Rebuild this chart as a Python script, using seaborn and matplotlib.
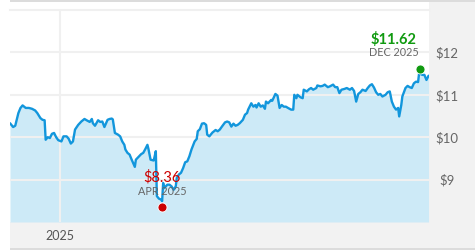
import matplotlib
matplotlib.use("Agg")
import matplotlib.pyplot as plt
from matplotlib.patches import Rectangle
import seaborn as sns
import pandas as pd

dates = [
    "2024-11-14", "2024-11-17", "2024-11-19", "2024-11-22", "2024-11-24", "2024-11-26", "2024-11-29",
    "2024-12-02", "2024-12-05", "2024-12-08", "2024-12-10", "2024-12-13", "2024-12-15", "2024-12-17",
    "2024-12-18", "2024-12-20", "2024-12-22", "2024-12-24", "2024-12-26", "2024-12-28", "2024-12-30",
    "2025-01-02", "2025-01-04", "2025-01-07", "2025-01-09", "2025-01-11", "2025-01-13", "2025-01-15",
    "2025-01-18", "2025-01-21", "2025-01-24", "2025-01-26", "2025-01-29", "2025-01-31", "2025-02-01",
    "2025-02-03", "2025-02-06", "2025-02-08", "2025-02-10", "2025-02-12", "2025-02-15", "2025-02-17",
    "2025-02-19", "2025-02-20", "2025-02-22", "2025-02-25", "2025-02-27", "2025-03-01", "2025-03-03",
    "2025-03-04", "2025-03-06", "2025-03-08", "2025-03-10", "2025-03-13", "2025-03-14", "2025-03-17",
    "2025-03-19", "2025-03-21", "2025-03-23", "2025-03-25", "2025-03-26", "2025-03-28", "2025-03-31",
    "2025-04-02", "2025-04-03", "2025-04-05", "2025-04-07", "2025-04-08", "2025-04-09", "2025-04-10",
    "2025-04-13", "2025-04-15", "2025-04-17", "2025-04-19", "2025-04-21", "2025-04-22", "2025-04-24",
    "2025-04-26", "2025-04-28", "2025-04-30", "2025-05-02", "2025-05-04", "2025-05-06", "2025-05-09",
    "2025-05-11", "2025-05-12", "2025-05-14", "2025-05-16", "2025-05-18", "2025-05-20", "2025-05-21",
    "2025-05-23", "2025-05-26", "2025-05-29", "2025-05-31", "2025-06-02", "2025-06-04", "2025-06-07",
    "2025-06-09", "2025-06-11", "2025-06-13", "2025-06-15", "2025-06-17", "2025-06-19", "2025-06-21",
    "2025-06-24", "2025-06-26", "2025-06-28", "2025-06-29", "2025-07-02", "2025-07-04", "2025-07-06",
    "2025-07-07", "2025-07-09", "2025-07-11", "2025-07-13", "2025-07-15", "2025-07-16", "2025-07-18",
    "2025-07-21", "2025-07-22", "2025-07-25", "2025-07-27", "2025-07-29", "2025-07-31", "2025-08-02",
    "2025-08-04", "2025-08-06", "2025-08-09", "2025-08-11", "2025-08-12", "2025-08-14", "2025-08-15",
    "2025-08-18", "2025-08-20", "2025-08-21", "2025-08-24", "2025-08-26", "2025-08-28", "2025-08-30",
    "2025-09-02", "2025-09-03", "2025-09-06", "2025-09-08", "2025-09-10", "2025-09-13", "2025-09-15",
    "2025-09-18", "2025-09-20", "2025-09-22", "2025-09-24", "2025-09-26", "2025-09-29", "2025-10-01",
    "2025-10-04", "2025-10-06", "2025-10-08", "2025-10-10", "2025-10-12", "2025-10-14", "2025-10-16",
    "2025-10-19", "2025-10-21", "2025-10-23", "2025-10-25", "2025-10-27", "2025-10-29", "2025-10-31",
    "2025-11-02", "2025-11-04", "2025-11-07", "2025-11-09", "2025-11-11", "2025-11-13", "2025-11-15",
    "2025-11-17", "2025-11-19", "2025-11-20", "2025-11-22", "2025-11-23", "2025-11-26", "2025-11-28",
    "2025-11-30", "2025-12-02", "2025-12-04", "2025-12-06", "2025-12-08", "2025-12-09", "2025-12-12",
    "2025-12-14", "2025-12-16", "2025-12-18",
]
prices = [
    10.33, 10.24, 10.27, 10.57, 10.69, 10.75, 10.69,
    10.69, 10.67, 10.63, 10.57, 10.45, 10.41, 10.40,
    9.94, 10.00, 9.98, 10.08, 10.10, 10.00, 9.93,
    9.90, 10.02, 10.02, 9.96, 9.85, 9.90, 10.18,
    10.29, 10.37, 10.43, 10.40, 10.36, 10.43, 10.33,
    10.27, 10.40, 10.36, 10.37, 10.24, 10.41, 10.43,
    10.44, 10.42, 10.10, 10.06, 10.02, 9.90, 9.82,
    9.71, 9.63, 9.59, 9.47, 9.30, 9.47, 9.55,
    9.60, 9.63, 9.72, 9.82, 9.72, 9.47, 9.45,
    9.67, 8.61, 8.55, 8.53, 8.49, 8.92, 8.80,
    8.88, 8.88, 8.84, 8.76, 8.84, 9.04, 9.12,
    9.16, 9.27, 9.41, 9.43, 9.55, 9.71, 9.90,
    9.96, 10.14, 10.19, 10.32, 10.33, 10.29, 10.06,
    10.02, 10.11, 10.17, 10.14, 10.18, 10.25, 10.35,
    10.37, 10.35, 10.25, 10.32, 10.27, 10.29, 10.33,
    10.41, 10.53, 10.57, 10.65, 10.80, 10.72, 10.76,
    10.70, 10.80, 10.72, 10.75, 10.67, 10.84, 10.80,
    10.88, 10.86, 11.02, 10.98, 10.69, 10.76, 10.72,
    10.72, 10.69, 10.65, 10.65, 11.00, 10.92, 11.00,
    10.94, 10.92, 11.12, 11.08, 11.13, 11.16, 11.12,
    11.16, 11.22, 11.20, 11.21, 11.24, 11.18, 11.20,
    11.24, 11.18, 11.18, 11.04, 11.12, 11.14, 11.16,
    11.12, 11.16, 11.09, 10.84, 11.02, 11.06, 11.12,
    11.09, 11.16, 11.22, 11.25, 11.17, 11.06, 11.00,
    11.02, 10.96, 11.00, 11.06, 11.08, 10.84, 10.72,
    10.65, 10.69, 10.49, 10.76, 10.96, 11.16, 11.21,
    11.18, 11.16, 11.27, 11.31, 11.30, 11.51, 11.47,
    11.47, 11.35, 11.45,
]

low_date, low_price, low_label, low_month = "2025-04-08", 8.36, "$8.36", "APR 2025"
high_date, high_price, high_label, high_month = "2025-12-10", 11.62, "$11.62", "DEC 2025"

y_ticks = [9, 10, 11, 12]
y_tick_labels = ["$9", "$10", "$11", "$12"]
x_tick_date = "2025-01-01"
x_tick_label = "2025"

df = pd.DataFrame({"date": pd.to_datetime(dates), "price": prices})

sns.set_theme(style="white")
plt.rcParams["font.family"] = ["Lato", "DejaVu Sans"]

W, H = 475, 250
fig = plt.figure(figsize=(W / 100, H / 100), dpi=100)
fig.patch.set_facecolor("white")

def fx(px):
    return px / W

def fy(py):
    return 1 - py / H

# frame decorations
gray = "#f2f2f2"
fig.add_artist(Rectangle((fx(429), 0), fx(475 - 429), 1, transform=fig.transFigure,
                         facecolor=gray, edgecolor="none", zorder=0))
fig.add_artist(Rectangle((fx(10), fy(248)), fx(465), (248 - 222) / H, transform=fig.transFigure,
                         facecolor=gray, edgecolor="none", zorder=0))
fig.add_artist(Rectangle((fx(10), fy(2)), fx(465), 2 / H, transform=fig.transFigure,
                         facecolor="#dcdcdc", edgecolor="none", zorder=0))
fig.add_artist(Rectangle((fx(10), 0), fx(465), 2 / H, transform=fig.transFigure,
                         facecolor="#dcdcdc", edgecolor="none", zorder=0))

ax = fig.add_axes([fx(10), fy(222), fx(429 - 10), (222 - 10) / H])
ax.set_facecolor("white")

line_color = "#1296dc"
fill_color = "#cdeaf7"

ax.fill_between(df["date"], df["price"], 8, color=fill_color, linewidth=0, zorder=1)
sns.lineplot(data=df, x="date", y="price", ax=ax, color=line_color, linewidth=1.7, zorder=3)

ax.set_xlim(pd.Timestamp("2024-11-14"), pd.Timestamp("2025-12-18 10:00"))
ax.set_ylim(8, 13)

ax.set_yticks(y_ticks)
ax.set_yticklabels(y_tick_labels)
ax.yaxis.tick_right()
ax.tick_params(axis="y", length=0, pad=13, labelsize=9.5, labelcolor="#666666")
for t in ax.get_yticklabels():
    t.set_horizontalalignment("center")

ax.set_xticks([pd.Timestamp(x_tick_date)])
ax.set_xticklabels([x_tick_label])
ax.tick_params(axis="x", length=0, pad=6, labelsize=9, labelcolor="#555555")

ax.grid(True, color="#f0f0f0", linewidth=1.5, zorder=2)
ax.set_axisbelow(False)
for g in ax.get_xgridlines() + ax.get_ygridlines():
    g.set_zorder(2)

for s in ["left", "bottom", "right"]:
    ax.spines[s].set_visible(False)
ax.spines["top"].set_color("#f0f0f0")
ax.spines["top"].set_linewidth(1.5)
ax.set_xlabel("")
ax.set_ylabel("")

# low annotation
ld = pd.Timestamp(low_date)
ax.scatter([ld], [low_price], s=42, color="#cc0000", zorder=5, clip_on=False, edgecolors="white", linewidths=0.6)
ax.annotate(low_label, (ld, low_price), xytext=(0, 21), textcoords="offset points",
            ha="center", va="center", fontsize=10.5, color="#cc0000", zorder=6)
ax.annotate(low_month, (ld, low_price), xytext=(0, 11), textcoords="offset points",
            ha="center", va="center", fontsize=7.8, color="#666666", zorder=6)

# high annotation
hd = pd.Timestamp(high_date)
ax.scatter([hd], [high_price], s=42, color="#109a10", zorder=5, clip_on=False, edgecolors="white", linewidths=0.6)
ax.annotate(high_label, (hd, high_price), xytext=(-19, 21), textcoords="offset points",
            ha="center", va="center", fontsize=10.5, fontweight="bold", color="#109a10", zorder=6)
ax.annotate(high_month, (hd, high_price), xytext=(-19, 11.5), textcoords="offset points",
            ha="center", va="center", fontsize=7.8, color="#666666", zorder=6)

fig.savefig("out.png", dpi=100, facecolor=fig.get_facecolor())
